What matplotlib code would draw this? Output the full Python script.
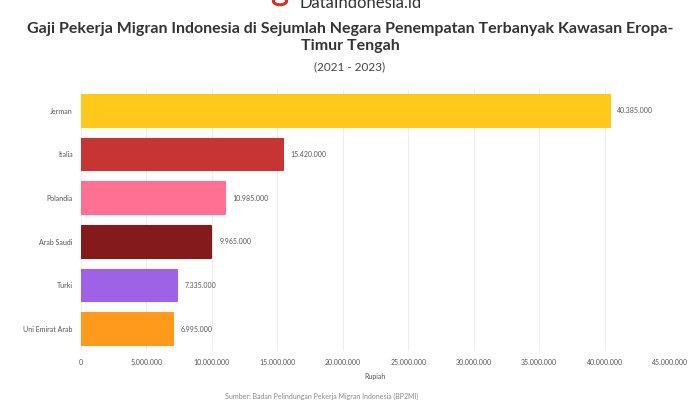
import matplotlib
matplotlib.use('Agg')
import matplotlib.pyplot as plt
from matplotlib.ticker import FuncFormatter
from matplotlib.patches import Circle

plt.rcParams['font.family'] = ['Lato', 'DejaVu Sans']

negara = ['Jerman', 'Italia', 'Polandia', 'Arab Saudi', 'Turki', 'Uni Emirat Arab']
gaji = [40385000, 15420000, 10985000, 9965000, 7335000, 6995000]
warna = ['#FFC91B', '#C73434', '#FF7093', '#841A1A', '#9D62E6', '#FF9A1B']
xticks = [0, 5000000, 10000000, 15000000, 20000000, 25000000, 30000000, 35000000, 40000000, 45000000]


def rupiah(v, pos=None):
    return '{:,.0f}'.format(v).replace(',', '.')


fig = plt.figure(figsize=(7, 4), dpi=100)
ax = fig.add_axes([81 / 700, 1 - 351 / 400, 589 / 700, 262 / 400])

y = list(range(len(negara)))
ax.barh(y, gaji, height=0.72, color=warna, edgecolor=warna, linewidth=1.5,
        joinstyle='round', zorder=3)
for i, v in enumerate(gaji):
    ax.text(v + 600000, i, rupiah(v), va='center', ha='left', fontsize=5, color='#555555')

ax.set_ylim(len(negara) - 0.5, -0.5)
ax.set_xlim(0, 45000000)
ax.set_yticks(y)
ax.set_yticklabels(negara, fontsize=5, color='#555555')
ax.set_xticks(xticks)
ax.xaxis.set_major_formatter(FuncFormatter(rupiah))
ax.tick_params(axis='x', labelsize=5, colors='#555555', length=0, pad=6)
ax.tick_params(axis='y', length=0, pad=6)
ax.grid(axis='x', color='#EEEEEE', linewidth=0.8, zorder=0)
for s in ax.spines.values():
    s.set_visible(False)
ax.set_xlabel('Rupiah', fontsize=5, color='#555555', labelpad=5)

# logo di atas (terpotong seperti aslinya)
fig.patches.append(Circle((280 / 700, 1 - 1 / 400), 0.0095, transform=fig.transFigure,
                          facecolor='white', edgecolor='#D0312D', linewidth=2.2))
fig.text(0.515, 0.993, 'DataIndonesia.id', ha='center', va='center', fontsize=12, color='#333333')
fig.text(0.5, 0.906, 'Gaji Pekerja Migran Indonesia di Sejumlah Negara Penempatan Terbanyak Kawasan Eropa-\nTimur Tengah',
         ha='center', va='center', fontsize=11.5, fontweight='bold', color='#333333', linespacing=1.3)
fig.text(0.5, 0.832, '(2021 - 2023)', ha='center', va='center', fontsize=8.5, color='#444444')
fig.text(0.46, 0.008, 'Sumber: Badan Pelindungan Pekerja Migran Indonesia (BP2MI)', ha='center', va='center',
         fontsize=5, color='#888888')

fig.savefig('out.png', dpi=100, facecolor='white')
